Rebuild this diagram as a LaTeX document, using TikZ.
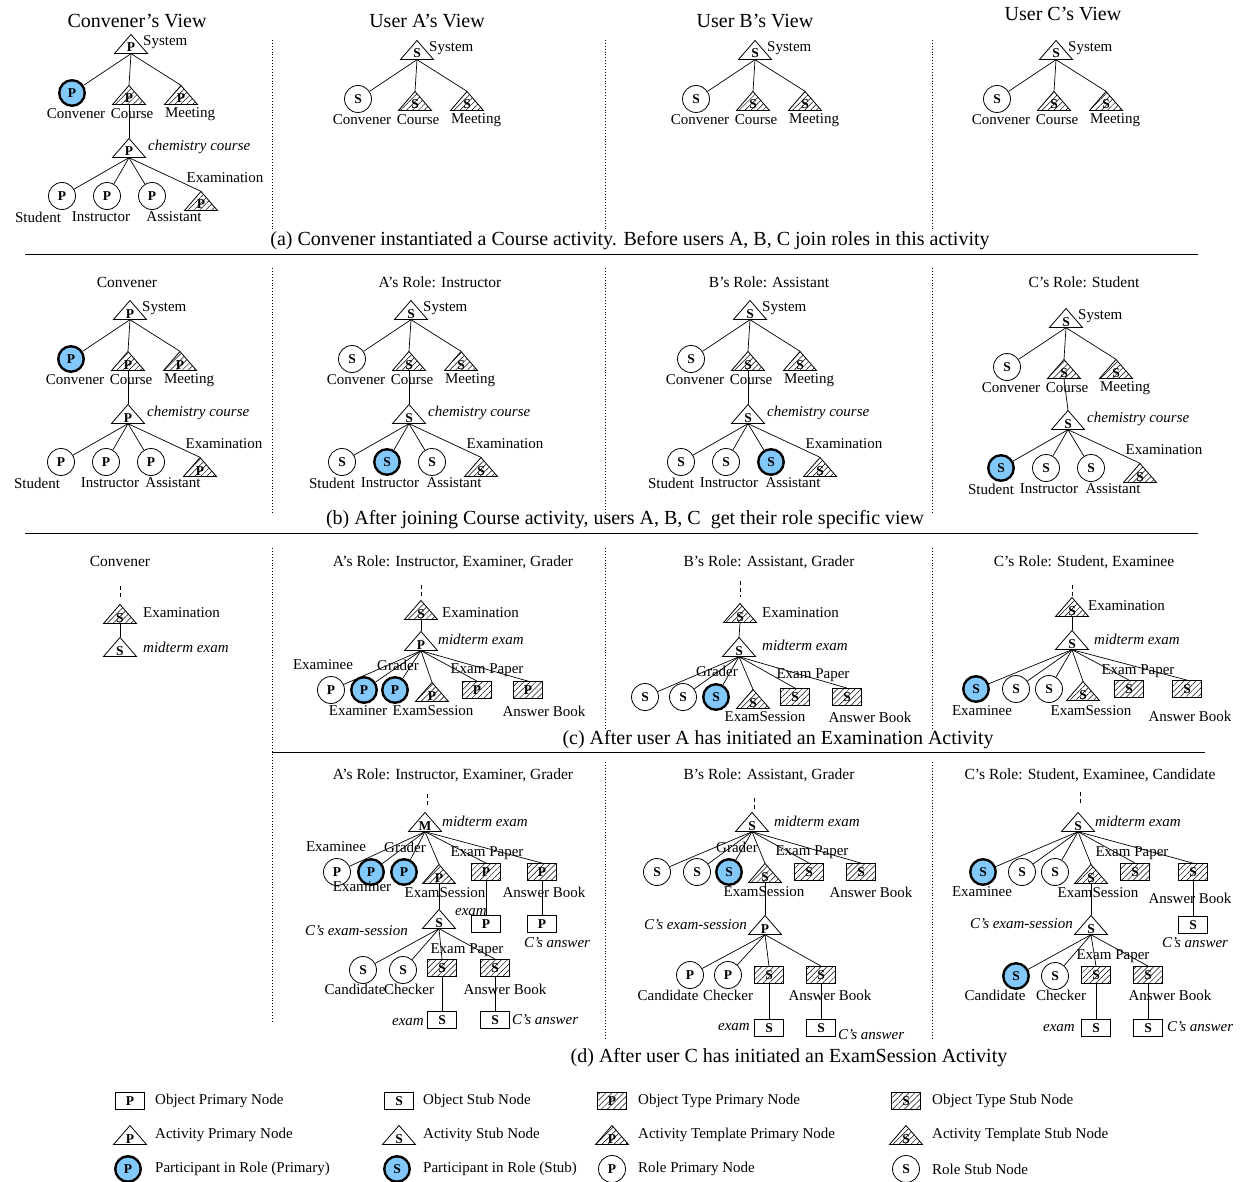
\documentclass[tikz,border=0pt]{standalone}
\usepackage{fontspec}
\setmainfont{Liberation Serif}
\usetikzlibrary{patterns.meta,calc}
\definecolor{partblue}{RGB}{130,200,250}
\newcommand\fs[1]{\fontsize{#1}{#1}\selectfont}
\tikzset{
  every node/.style={inner sep=0pt},
  link/.style={line width=0.7pt},
  lbl/.style={font=\fs{15}},
  ilbl/.style={font=\fs{15}\itshape},
  hdr/.style={font=\fs{15.5}},
  ttl/.style={font=\fs{20}},
  captxt/.style={font=\fs{20}},
  ltr/.style={font=\fs{13.5}\bfseries},
  hatch/.style={pattern={Lines[angle=45,distance=4.2pt,line width=0.5pt]}},
  role/.style={circle, draw, line width=0.8pt, minimum size=27pt, ltr},
  part/.style={role, fill=partblue, line width=2.4pt, minimum size=25.5pt},
  obj/.style={rectangle, draw, line width=0.8pt, minimum width=29pt, minimum height=17pt, ltr},
  otype/.style={obj, hatch},
  tribox/.style={minimum width=33pt, minimum height=19pt, ltr},
  tri/.style={draw, line width=0.8pt},
  sepline/.style={dotted, line width=0.9pt},
  hrule/.style={line width=0.8pt},
  dashlink/.style={link, dash pattern=on 4pt off 3pt},
}
\newcommand\Act[3]{\draw[tri,shift={(#2)}] (-16.5,9.5) -- (0,-9.5) -- (16.5,9.5) -- cycle;
  \node[tribox] (#1) at (#2) {\smash{\raisebox{-8pt}{#3}}};}
\newcommand\Tmpl[3]{\draw[tri,hatch,shift={(#2)}] (-16.5,9.5) -- (0,-9.5) -- (16.5,9.5) -- cycle;
  \node[tribox] (#1) at (#2) {\smash{\raisebox{-8pt}{#3}}};}
\newcommand\Ln[2]{\draw[link] (#1.south) -- (#2);}
% System subtree: prefix, pos, sys letter, conv style, conv letter, template letter
\newcommand\SysTree[6]{%
\begin{scope}[shift={(#2)}]
 \Act{#1sys}{0,0}{#3}
 \node[lbl,anchor=west] (#1sysl) at (12,-2) {System};
 \node[#4] (#1conv) at (-59,49) {#5};
 \Tmpl{#1crs}{-2,51}{#6}
 \Tmpl{#1mtg}{50,51}{#6}
 \node[lbl] (#1convl) at (-55,70) {Convener};
 \node[lbl] (#1crsl) at (1,70) {Course};
 \node[lbl] (#1mtgl) at (59,70) {Meeting};
 \Ln{#1sys}{#1conv}\Ln{#1sys}{#1crs.north}\Ln{#1sys}{#1mtg.north}
\end{scope}}
% chemistry course subtree (label offsets from \stx, \inx)
\def\stx{-77}\def\inx{-19}
\newcommand\ChemTree[8]{%
\begin{scope}[shift={(#2)}]
 \Act{#1ch}{0,0}{#3}
 \node[ilbl,anchor=west] (#1chl) at (19,-1) {chemistry course};
 \node[#4] (#1st) at (-67,48) {#7};
 \node[#5] (#1in) at (-22,48) {#7};
 \node[#6] (#1as) at (23,48) {#7};
 \Tmpl{#1ex}{72,53}{#8}
 \node[lbl] (#1stl) at (\stx,69) {Student};
 \node[lbl] (#1inl) at (\inx,69) {Instructor};
 \node[lbl] (#1asl) at (45,69) {Assistant};
 \node[lbl] (#1exl) at (96,30) {Examination};
 \Ln{#1ch}{#1st}\Ln{#1ch}{#1in}\Ln{#1ch}{#1as}\Ln{#1ch}{#1ex.north}
\end{scope}}
\begin{document}
\begin{tikzpicture}[x=1pt,y=-1pt]
\useasboundingbox (0,0) rectangle (1244,1182);
\fill[white] (0,0) rectangle (1244,1182);
% ---------- separators and rules ----------
\foreach \sx in {272,605,932}{
  \draw[sepline] (\sx,40) -- (\sx,230);
  \draw[sepline] (\sx,268) -- (\sx,513);
}
\draw[sepline] (272,548) -- (272,1022);
\foreach \sx in {605,932}{
  \draw[sepline] (\sx,548) -- (\sx,728);
  \draw[sepline] (\sx,762) -- (\sx,1040);
}
\draw[hrule] (25,254) -- (1198,254);
\draw[hrule] (25,533) -- (1198,533);
\draw[hrule] (272,752) -- (1205,752);
% ---------- captions ----------
\node[captxt] (capa) at (630,241) {(a) Convener instantiated a Course activity. Before users A, B, C join roles in this activity};
\node[captxt] (capb) at (625,520) {(b) After joining Course activity, users A, B, C\ \ get their role specific view};
\node[captxt] (capc) at (778,740) {(c) After user A has initiated an Examination Activity};
\node[captxt] (capd) at (789,1058) {(d) After user C has initiated an ExamSession Activity};
% ================= (a) =================
\node[ttl] (ta0) at (137,21) {Convener's View};
\node[ttl] (ta1) at (427,21) {User A's View};
\node[ttl] (ta2) at (755,21) {User B's View};
\node[ttl] (ta3) at (1063,14) {User C's View};
\SysTree{ca}{131,44}{P}{part}{P}{P}
\def\stx{-91}\def\inx{-28}
\ChemTree{cc}{129,148}{P}{role}{role}{role}{P}{P}
\Ln{cacrs}{ccch.north}
\SysTree{aa}{417,50}{S}{role}{S}{S}
\SysTree{ba}{755,50}{S}{role}{S}{S}
\SysTree{qa}{1056,50}{S}{role}{S}{S}
% ================= (b) =================
\node[hdr] (hb0) at (127,282) {Convener};
\node[hdr] (hb1) at (440,282) {A's Role: Instructor};
\node[hdr] (hb2) at (769,282) {B's Role: Assistant};
\node[hdr] (hb3) at (1084,282) {C's Role: Student};
\SysTree{cb}{130,310}{P}{part}{P}{P}
\def\stx{-91}\def\inx{-18}
\ChemTree{cbc}{128,414}{P}{role}{role}{role}{P}{P}
\Ln{cbcrs}{cbcch.north}
\def\stx{-77}\def\inx{-19}
\SysTree{ab}{411,310}{S}{role}{S}{S}
\ChemTree{abc}{409,414}{S}{role}{part}{role}{S}{S}
\Ln{abcrs}{abcch.north}
\SysTree{bb}{750,310}{S}{role}{S}{S}
\ChemTree{bbc}{748,414}{S}{role}{role}{part}{S}{S}
\Ln{bbcrs}{bbcch.north}
\SysTree{qb}{1066,318}{S}{role}{S}{S}
\ChemTree{qbc}{1068,420}{S}{part}{role}{role}{S}{S}
\draw[link] (qbcrs.south) -- (qbcch.north);
% ================= (c) =================
\node[hdr] (hc0) at (120,561) {Convener};
\node[hdr] (hc1) at (453,562) {A's Role: Instructor, Examiner, Grader};
\node[hdr] (hc2) at (769,562) {B's Role: Assistant, Grader};
\node[hdr] (hc3) at (1084,562) {C's Role: Student, Examinee};
% Convener (c)
\coordinate (ccT) at (120,586); \coordinate (ccB) at (120,599);
\draw[dashlink] (ccT) -- (ccB);
\Tmpl{ccx}{120,614}{S}
\node[lbl,anchor=west] (ccxl) at (143,613) {Examination};
\Act{ccm}{120,647}{S}
\node[ilbl,anchor=west] (ccml) at (143,647) {midterm exam};
\Ln{ccx}{ccm.north}
% A (c)
\coordinate (acT) at (421,585); \coordinate (acB) at (421,598);
\draw[dashlink] (acT) -- (acB);
\Tmpl{acx}{421,610}{S}
\node[lbl,anchor=west] (acxl) at (442,613) {Examination};
\Act{acm}{421,641}{P}
\node[ilbl,anchor=west] (acml) at (438,639) {midterm exam};
\Ln{acx}{acm.north}
\node[role] (ac1) at (331,690) {P};
\node[part] (ac2) at (364,690) {P};
\node[part] (ac3) at (395,690) {P};
\Tmpl{ac4}{432,692}{P}
\node[otype] (ac5) at (477,690) {P};
\node[otype] (ac6) at (528,690) {P};
\Ln{acm}{ac1}\Ln{acm}{ac2}\Ln{acm}{ac3}\Ln{acm}{ac4.north}\Ln{acm}{ac5.north}\Ln{acm}{ac6.north}
\node[lbl] (ac1l) at (323,665) {Examinee};
\node[lbl] (ac3l) at (398,665) {Grader};
\node[lbl] (ac5l) at (487,670) {Exam Paper};
\node[lbl] (ac2l) at (358,711) {Examiner};
\node[lbl] (ac4l) at (433,711) {ExamSession};
\node[lbl] (ac6l) at (544,711) {Answer Book};
% B (c)
\coordinate (bcT) at (740,581); \coordinate (bcB) at (740,597);
\draw[dashlink] (bcT) -- (bcB);
\Tmpl{bcx}{740,613}{S}
\node[lbl,anchor=west] (bcxl) at (762,613) {Examination};
\Act{bcm}{739,647}{S}
\node[ilbl,anchor=west] (bcml) at (762,645) {midterm exam};
\Ln{bcx}{bcm.north}
\node[role] (bc1) at (645,697) {S};
\node[role] (bc2) at (683,697) {S};
\node[part] (bc3) at (716,697) {S};
\Tmpl{bc4}{753,699}{S}
\node[otype] (bc5) at (795,697) {S};
\node[otype] (bc6) at (847,697) {S};
\Ln{bcm}{bc1}\Ln{bcm}{bc2}\Ln{bcm}{bc3}\Ln{bcm}{bc4.north}\Ln{bcm}{bc5.north}\Ln{bcm}{bc6.north}
\node[lbl] (bc3l) at (717,671) {Grader};
\node[lbl] (bc5l) at (813,675) {Exam Paper};
\node[lbl] (bc4l) at (765,717) {ExamSession};
\node[lbl] (bc6l) at (870,717) {Answer Book};
% C (c)
\coordinate (qcT) at (1072,585); \coordinate (qcB) at (1072,597);
\draw[dashlink] (qcT) -- (qcB);
\Tmpl{qcx}{1072,607}{S}
\node[lbl,anchor=west] (qcxl) at (1088,606) {Examination};
\Act{qcm}{1072,640}{S}
\node[ilbl,anchor=west] (qcml) at (1094,639) {midterm exam};
\Ln{qcx}{qcm.north}
\node[part] (qc1) at (976,689) {S};
\node[role] (qc2) at (1016,689) {S};
\node[role] (qc3) at (1049,689) {S};
\Tmpl{qc4}{1083,691}{S}
\node[otype] (qc5) at (1129,689) {S};
\node[otype] (qc6) at (1187,689) {S};
\Ln{qcm}{qc1}\Ln{qcm}{qc2}\Ln{qcm}{qc3}\Ln{qcm}{qc4.north}\Ln{qcm}{qc5.north}\Ln{qcm}{qc6.north}
\node[lbl] (qc5l) at (1138,671) {Exam Paper};
\node[lbl] (qc1l) at (982,711) {Examinee};
\node[lbl] (qc4l) at (1091,711) {ExamSession};
\node[lbl] (qc6l) at (1190,716) {Answer Book};
% ================= (d) =================
\node[hdr] (hd1) at (453,775) {A's Role: Instructor, Examiner, Grader};
\node[hdr] (hd2) at (769,775) {B's Role: Assistant, Grader};
\node[hdr] (hd3) at (1090,775) {C's Role: Student, Examinee, Candidate};
% A (d)
\coordinate (adT) at (427,794); \coordinate (adB) at (427,806);
\draw[dashlink] (adT) -- (adB);
\Act{adm}{425,822}{M}
\node[ilbl,anchor=west] (adml) at (442,821) {midterm exam};
\node[role] (ad1) at (337,872) {P};
\node[part] (ad2) at (371,872) {P};
\node[part] (ad3) at (404,872) {P};
\Tmpl{ad4}{439,874}{P}
\node[otype] (ad5) at (486,872) {P};
\node[otype] (ad6) at (542,872) {P};
\Ln{adm}{ad1}\Ln{adm}{ad2}\Ln{adm}{ad3}\Ln{adm}{ad4.north}\Ln{adm}{ad5.north}\Ln{adm}{ad6.north}
\node[lbl] (ad1l) at (336,847) {Examinee};
\node[lbl] (ad3l) at (405,847) {Grader};
\node[lbl] (ad5l) at (487,853) {Exam Paper};
\node[lbl] (ad2l) at (362,887) {Examiner};
\node[lbl] (ad4l) at (445,893) {ExamSession};
\node[lbl] (ad6l) at (544,892) {Answer Book};
\node[obj] (ad7) at (486,924) {P};
\node[ilbl,anchor=east] (ad7l) at (487,912) {exam};
\node[obj] (ad8) at (542,924) {P};
\node[ilbl] (ad8l) at (557,943) {C's answer};
\Ln{ad5}{ad7.north}\Ln{ad6}{ad8.north}
\Act{ads}{439,919}{S}
\node[ilbl,anchor=east] (adsl) at (408,931) {C's exam-session};
\Ln{ad4}{ads.north}
\node[role] (ads1) at (363,970) {S};
\node[role] (ads2) at (403,970) {S};
\node[otype] (ads3) at (442,968) {S};
\node[otype] (ads4) at (495,968) {S};
\Ln{ads}{ads1}\Ln{ads}{ads2}\Ln{ads}{ads3.north}\Ln{ads}{ads4.north}
\node[lbl] (ads3l) at (467,950) {Exam Paper};
\node[lbl] (ads1l) at (355,989) {Candidate};
\node[lbl] (ads2l) at (409,989) {Checker};
\node[lbl] (ads4l) at (505,989) {Answer Book};
\node[obj] (ads5) at (442,1020) {S};
\node[ilbl,anchor=east] (ads5l) at (424,1022) {exam};
\node[obj] (ads6) at (495,1020) {S};
\node[ilbl,anchor=west] (ads6l) at (512,1020) {C's answer};
\Ln{ads3}{ads5.north}\Ln{ads4}{ads6.north}
% B (d)
\coordinate (bdT) at (754,798); \coordinate (bdB) at (754,810);
\draw[dashlink] (bdT) -- (bdB);
\Act{bdm}{752,822}{S}
\node[ilbl,anchor=west] (bdml) at (774,821) {midterm exam};
\node[role] (bd1) at (657,872) {S};
\node[role] (bd2) at (697,872) {S};
\node[part] (bd3) at (729,872) {S};
\Tmpl{bd4}{765,873}{S}
\node[otype] (bd5) at (809,872) {S};
\node[otype] (bd6) at (861,872) {S};
\Ln{bdm}{bd1}\Ln{bdm}{bd2}\Ln{bdm}{bd3}\Ln{bdm}{bd4.north}\Ln{bdm}{bd5.north}\Ln{bdm}{bd6.north}
\node[lbl] (bd3l) at (737,847) {Grader};
\node[lbl] (bd5l) at (812,852) {Exam Paper};
\node[lbl] (bd4l) at (764,892) {ExamSession};
\node[lbl] (bd6l) at (871,892) {Answer Book};
\Act{bds}{765,925}{P}
\node[ilbl,anchor=east] (bdsl) at (747,925) {C's exam-session};
\Ln{bd4}{bds.north}
\node[role] (bds1) at (690,975) {P};
\node[role] (bds2) at (728,975) {P};
\node[otype] (bds3) at (769,975) {S};
\node[otype] (bds4) at (821,975) {S};
\Ln{bds}{bds1}\Ln{bds}{bds2}\Ln{bds}{bds3.north}\Ln{bds}{bds4.north}
\node[lbl] (bds1l) at (668,995) {Candidate};
\node[lbl] (bds2l) at (728,995) {Checker};
\node[lbl] (bds4l) at (830,995) {Answer Book};
\node[obj] (bds5) at (769,1028) {S};
\node[ilbl,anchor=east] (bds5l) at (750,1027) {exam};
\node[obj] (bds6) at (821,1028) {S};
\node[ilbl,anchor=west] (bds6l) at (838,1035) {C's answer};
\Ln{bds3}{bds5.north}\Ln{bds4}{bds6.north}
% C (d)
\coordinate (qdT) at (1080,792); \coordinate (qdB) at (1080,804);
\draw[dashlink] (qdT) -- (qdB);
\Act{qdm}{1078,822}{S}
\node[ilbl,anchor=west] (qdml) at (1095,821) {midterm exam};
\node[part] (qd1) at (983,872) {S};
\node[role] (qd2) at (1022,872) {S};
\node[role] (qd3) at (1055,872) {S};
\Tmpl{qd4}{1091,874}{S}
\node[otype] (qd5) at (1135,872) {S};
\node[otype] (qd6) at (1193,872) {S};
\Ln{qdm}{qd1}\Ln{qdm}{qd2}\Ln{qdm}{qd3}\Ln{qdm}{qd4.north}\Ln{qdm}{qd5.north}\Ln{qdm}{qd6.north}
\node[lbl] (qd5l) at (1132,853) {Exam Paper};
\node[lbl] (qd1l) at (982,892) {Examinee};
\node[lbl] (qd4l) at (1098,893) {ExamSession};
\node[lbl] (qd6l) at (1190,898) {Answer Book};
\node[obj] (qd7) at (1193,925) {S};
\node[ilbl] (qd7l) at (1195,943) {C's answer};
\Ln{qd6}{qd7.north}
\Act{qds}{1091,925}{S}
\node[ilbl,anchor=east] (qdsl) at (1073,924) {C's exam-session};
\Ln{qd4}{qds.north}
\node[part] (qds1) at (1016,976) {S};
\node[role] (qds2) at (1055,976) {S};
\node[otype] (qds3) at (1096,975) {S};
\node[otype] (qds4) at (1148,975) {S};
\Ln{qds}{qds1}\Ln{qds}{qds2}\Ln{qds}{qds3.north}\Ln{qds}{qds4.north}
\node[lbl] (qds3l) at (1113,956) {Exam Paper};
\node[lbl] (qds1l) at (995,995) {Candidate};
\node[lbl] (qds2l) at (1061,995) {Checker};
\node[lbl] (qds4l) at (1170,995) {Answer Book};
\node[obj] (qds5) at (1096,1028) {S};
\node[ilbl,anchor=east] (qds5l) at (1075,1028) {exam};
\node[obj] (qds6) at (1148,1028) {S};
\node[ilbl,anchor=west] (qds6l) at (1167,1027) {C's answer};
\Ln{qds3}{qds5.north}\Ln{qds4}{qds6.north}
% ================= legend =================
\node[obj] (lg1) at (130,1101) {P};
\node[lbl,anchor=west] (lg1l) at (155,1101) {Object Primary Node};
\Act{lg2}{130,1135}{P}
\node[lbl,anchor=west] (lg2l) at (155,1135) {Activity Primary Node};
\node[part] (lg3) at (128,1169) {P};
\node[lbl,anchor=west] (lg3l) at (155,1169) {Participant in Role (Primary)};
\node[obj] (lg4) at (399,1101) {S};
\node[lbl,anchor=west] (lg4l) at (423,1101) {Object Stub Node};
\Act{lg5}{399,1135}{S}
\node[lbl,anchor=west] (lg5l) at (423,1135) {Activity Stub Node};
\node[part] (lg6) at (397,1169) {S};
\node[lbl,anchor=west] (lg6l) at (423,1169) {Participant in Role (Stub)};
\node[otype] (lg7) at (612,1101) {P};
\node[lbl,anchor=west] (lg7l) at (638,1101) {Object Type Primary Node};
\Tmpl{lg8}{612,1135}{P}
\node[lbl,anchor=west] (lg8l) at (638,1135) {Activity Template Primary Node};
\node[role] (lg9) at (612,1169) {P};
\node[lbl,anchor=west] (lg9l) at (638,1169) {Role Primary Node};
\node[otype] (lg10) at (906,1101) {S};
\node[lbl,anchor=west] (lg10l) at (932,1101) {Object Type Stub Node};
\Tmpl{lg11}{906,1135}{S}
\node[lbl,anchor=west] (lg11l) at (932,1135) {Activity Template Stub Node};
\node[role] (lg12) at (906,1169) {S};
\node[lbl,anchor=west] (lg12l) at (932,1169) {Role Stub Node};
\end{tikzpicture}
\end{document}
